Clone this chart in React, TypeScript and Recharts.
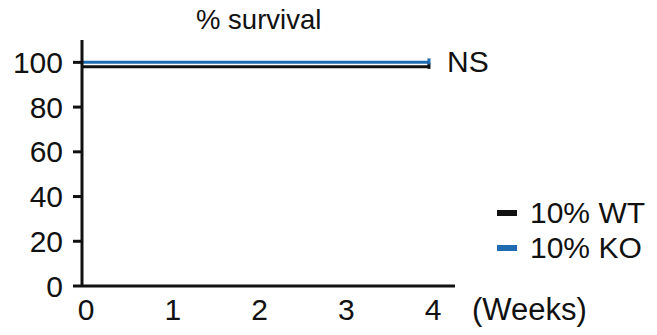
// Survival curve: % survival over weeks for WT vs KO
import React from 'react';
import { LineChart, Line, XAxis, YAxis } from 'recharts';

const weeks = [0, 1, 2, 3, 4];
const wtSurvival = [98, 98, 98, 98, 98];
const koSurvival = [100, 100, 100, 100, 100];
const yTicks = [0, 20, 40, 60, 80, 100];
const xTicks = [0, 1, 2, 3, 4];

const seriesMeta = [
  { key: 'wt', label: '10% WT', color: '#111111' },
  { key: 'ko', label: '10% KO', color: '#1f6cb3' },
];

const data = weeks.map((w, i) => ({ week: w, wt: wtSurvival[i], ko: koSurvival[i] }));

const FONT = '"Liberation Sans", Arial, sans-serif';

// censor tick drawn only on the last point
const EndTick = (props: any) => {
  const { cx, cy, index, stroke } = props;
  if (index !== data.length - 1) return null;
  return <line x1={cx} x2={cx} y1={cy - 4} y2={cy + 2} stroke={stroke} strokeWidth={3} />;
};

const txt = (size: number): React.CSSProperties => ({
  position: 'absolute',
  fontSize: size,
  lineHeight: 1,
  color: '#111',
  whiteSpace: 'nowrap',
});

export default function App() {
  return (
    <div style={{ position: 'absolute', left: 0, top: 0, width: 657, height: 335, background: '#fff', fontFamily: FONT }}>
      <LineChart width={657} height={335} data={data} margin={{ top: 40, right: 202, left: 22, bottom: 19 }}>
        <XAxis
          dataKey="week"
          type="number"
          domain={[0, 4.3]}
          ticks={xTicks}
          allowDataOverflow
          tickLine={false}
          axisLine={{ stroke: '#111', strokeWidth: 3 }}
          tick={{ fontSize: 30, fill: '#111', dx: 4 }}
          tickMargin={7}
          height={30}
        />
        <YAxis
          type="number"
          domain={[0, 110]}
          ticks={yTicks}
          allowDataOverflow
          width={60}
          tickSize={9}
          tickLine={{ stroke: '#111', strokeWidth: 3 }}
          axisLine={{ stroke: '#111', strokeWidth: 3 }}
          tick={{ fontSize: 30, fill: '#111' }}
          tickMargin={10}
        />
        <Line
          type="linear"
          dataKey="wt"
          stroke={seriesMeta[0].color}
          strokeWidth={3}
          dot={<EndTick />}
          activeDot={false}
          isAnimationActive={false}
        />
        <Line
          type="linear"
          dataKey="ko"
          stroke={seriesMeta[1].color}
          strokeWidth={3}
          dot={<EndTick />}
          activeDot={false}
          isAnimationActive={false}
        />
      </LineChart>
      <div style={{ ...txt(27.5), left: 196, top: 6 }}>% survival</div>
      <div style={{ ...txt(30), left: 447, top: 47 }}>NS</div>
      <div style={{ ...txt(31), left: 472, top: 294 }}>(Weeks)</div>
      {seriesMeta.map((s, i) => (
        <div key={s.key} style={{ ...txt(30), left: 497, top: 213 + i * 35 - 15, display: 'flex', alignItems: 'center' }}>
          <span style={{ display: 'inline-block', width: 20, height: 6, background: s.color, marginRight: 13 }} />
          {s.label}
        </div>
      ))}
    </div>
  );
}
